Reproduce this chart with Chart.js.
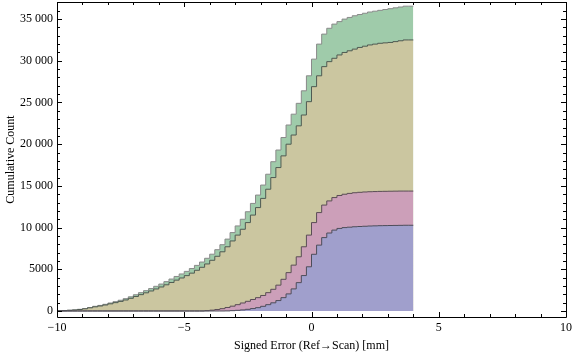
<!DOCTYPE html>
<html>
<head>
<meta charset="utf-8">
<script src="https://cdn.jsdelivr.net/npm/chart.js@4/dist/chart.umd.min.js"></script>
<style>
html,body{margin:0;padding:0;background:#fff;}
#wrap{width:576px;height:357px;position:relative;}
</style>
</head>
<body>
<div id="wrap"><canvas id="c" width="576" height="357"></canvas></div>
<script>
// Bin edges (mm), 0.2 mm bins from -10 to 4
const binEdges = [-10,-9.8,-9.6,-9.4,-9.2,-9,-8.8,-8.6,-8.4,-8.2,-8,-7.8,-7.6,-7.4,-7.2,-7,-6.8,-6.6,-6.4,-6.2,
  -6,-5.8,-5.6,-5.4,-5.2,-5,-4.8,-4.6,-4.4,-4.2,-4,-3.8,-3.6,-3.4,-3.2,-3,-2.8,-2.6,-2.4,-2.2,
  -2,-1.8,-1.6,-1.4,-1.2,-1,-0.8,-0.6,-0.4,-0.2,0,0.2,0.4,0.6,0.8,1,1.2,1.4,1.6,1.8,
  2,2.2,2.4,2.6,2.8,3,3.2,3.4,3.6,3.8,4];

// Cumulative counts per bin
const greenCounts = [0,20,60,90,130,200,290,420,560,670,800,960,1120,1290,1480,1700,1950,2200,2440,2690,
  2960,3230,3520,3830,4140,4440,4750,5090,5470,5870,6320,6810,7350,7950,8620,9400,10200,11000,11900,12900,
  13900,15100,16400,17900,19300,20800,22300,23600,24900,26400,28200,30200,32000,33200,33900,34400,34700,35000,35200,35400,
  35550,35700,35850,35950,36050,36150,36250,36350,36450,36550];
const tanCounts = [0,20,50,80,120,180,260,380,500,600,720,860,1000,1150,1320,1520,1740,1960,2180,2400,
  2640,2880,3140,3420,3700,3960,4240,4540,4880,5240,5640,6080,6560,7100,7700,8400,9100,9800,10600,11500,
  12400,13500,14600,16000,17200,18600,20000,21100,22200,23500,25100,26900,28200,29300,29900,30300,30700,31000,31200,31400,
  31600,31750,31900,32000,32100,32150,32200,32300,32400,32500];
const pinkCounts = [0,0,0,0,0,0,0,0,0,0,0,0,0,0,0,0,0,0,0,0,
  0,0,0,0,0,0,0,0,0,0,40,100,180,280,420,580,760,960,1160,1380,
  1600,1860,2200,2600,3100,3800,4600,5500,6500,7700,9100,10600,11800,12700,13200,13600,13850,14000,14100,14180,
  14230,14270,14300,14320,14340,14350,14360,14370,14380,14380];
const blueCounts = [0,0,0,0,0,0,0,0,0,0,0,0,0,0,0,0,0,0,0,0,
  0,0,0,0,0,0,0,0,0,0,0,0,0,0,10,40,80,130,200,290,
  400,560,760,980,1250,1600,2050,2650,3400,4250,5300,6800,7900,8800,9350,9700,9900,10000,10050,10100,
  10130,10160,10190,10210,10230,10240,10250,10260,10270,10280];

const xTickValues = [-10,-9,-8,-7,-6,-5,-4,-3,-2,-1,0,1,2,3,4,5,6,7,8,9,10];
const xTickLabels = ['−10','−5','0','5','10'];
const yTickValues = [];
for (let v = 0; v <= 37000; v += 1000) yTickValues.push(v);
const yTickLabels = ['0','5000','10 000','15 000','20 000','25 000','30 000','35 000'];

function series(counts){
  const pts = counts.map((v,i)=>({x: binEdges[i], y: v}));
  pts.push({x: binEdges[binEdges.length-1], y: counts[counts.length-1]});
  return pts;
}

const FONT = {family: '"Liberation Serif", "Times New Roman", serif', size: 12};

const frameTicks = {
  id: 'frameTicks',
  afterDraw(chart){
    const {ctx, chartArea: a, scales} = chart;
    ctx.save();
    ctx.strokeStyle = '#000';
    ctx.lineWidth = 1;
    ctx.beginPath();
    ctx.rect(Math.round(a.left)+0.5, Math.round(a.top)+0.5, Math.round(a.right-a.left), Math.round(a.bottom-a.top));
    ctx.stroke();
    ctx.beginPath();
    const x = scales.x, y = scales.y;
    x.ticks.forEach(t => {
      const px = Math.round(x.getPixelForValue(t.value)) + 0.5;
      const len = (t.value % 5 === 0) ? 5 : 3;
      ctx.moveTo(px, a.bottom); ctx.lineTo(px, a.bottom - len);
      ctx.moveTo(px, a.top); ctx.lineTo(px, a.top + len);
    });
    y.ticks.forEach(t => {
      const py = Math.round(y.getPixelForValue(t.value)) + 0.5;
      const len = (t.value % 5000 === 0) ? 5 : 3;
      ctx.moveTo(a.left, py); ctx.lineTo(a.left + len, py);
      ctx.moveTo(a.right, py); ctx.lineTo(a.right - len, py);
    });
    ctx.stroke();
    ctx.restore();
  }
};

const mk = (label, counts, fillColor, edge) => ({
  label, data: series(counts), stepped: 'after', fill: 'origin',
  backgroundColor: fillColor, borderColor: edge, borderWidth: 1,
  pointRadius: 0, tension: 0
});

new Chart(document.getElementById('c'), {
  type: 'line',
  data: {
    datasets: [
      mk('blue', blueCounts, 'rgb(160,159,204)', '#4d4d5a'),
      mk('pink', pinkCounts, 'rgb(204,159,185)', '#5a4d55'),
      mk('tan', tanCounts, 'rgb(203,198,160)', '#4f5a52'),
      mk('green', greenCounts, 'rgb(159,203,170)', '#8a8a8a')
    ]
  },
  options: {
    responsive: false,
    animation: false,
    devicePixelRatio: 1,
    layout: {padding: {top: 2, right: 10, left: 0, bottom: 0}},
    plugins: {legend: {display: false}, tooltip: {enabled: false}},
    scales: {
      x: {
        type: 'linear', min: -10, max: 10,
        grid: {display: false, drawTicks: false},
        border: {display: false},
        afterBuildTicks(s){ s.ticks = xTickValues.map(v => ({value: v})); },
        afterFit(s){ s.height = 40; s.paddingLeft = 0; s.paddingRight = 0; },
        ticks: {
          autoSkip: false, maxRotation: 0, padding: 4, color: '#000', font: FONT,
          callback(v){ return v % 5 === 0 ? xTickLabels[(v + 10) / 5] : ''; }
        },
        title: {display: true, text: 'Signed Error (Ref→Scan) [mm]', color: '#000', font: FONT, padding: {top: 5, bottom: 4}}
      },
      y: {
        type: 'linear', min: -720, max: 37050,
        grid: {display: false, drawTicks: false},
        border: {display: false},
        afterBuildTicks(s){ s.ticks = yTickValues.map(v => ({value: v})); },
        afterFit(s){ s.width = 57; s.paddingTop = 0; s.paddingBottom = 0; },
        ticks: {
          autoSkip: false, padding: 4, color: '#000', font: FONT,
          callback(v){ return v % 5000 === 0 ? yTickLabels[v / 5000] : ''; }
        },
        title: {display: true, text: 'Cumulative Count', color: '#000', font: FONT, padding: {top: 4, bottom: 0}}
      }
    }
  },
  plugins: [frameTicks]
});
</script>
</body>
</html>
